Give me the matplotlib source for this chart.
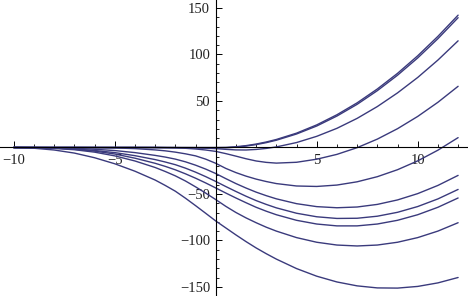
import matplotlib
matplotlib.use("Agg")
import matplotlib.pyplot as plt

# ---- data ----
x = [-10, -9, -8, -7, -6, -5, -4, -3, -2.5, -2, -1.5, -1, -0.5, 0,
     0.5, 1, 1.5, 2, 2.5, 3, 4, 5, 6, 7, 8, 9, 10, 11, 12]

c1 = [0, 0, 0, 0, 0, 0, 0, 0, 0, 0, 0, 0, 0, 0,
      0.15, 0.8, 2.0, 3.7, 5.9, 8.6, 15.4, 24.3, 35.2, 48.0, 62.9, 79.7, 98.6, 119.5, 142.3]
c2 = [0, 0, 0, 0, 0, 0, 0, 0, -0.05, -0.1, -0.15, -0.2, -0.35, -0.5,
      -0.3, 0.3, 1.5, 3.1, 5.2, 7.8, 14.5, 23.1, 33.8, 46.4, 61.1, 77.7, 96.3, 117.0, 139.6]
c3 = [0, 0, 0, 0, 0, 0, 0, 0, -0.1, -0.15, -0.3, -0.5, -0.8, -1.2,
      -2.0, -2.6, -2.7, -2.1, -1.0, 0.6, 5.3, 12.0, 20.6, 31.3, 44.0, 58.7, 75.3, 94.0, 114.7]
c4 = [0, 0, 0, 0, 0, 0, 0, -0.1, -0.2, -0.4, -0.85, -1.6, -2.7, -4.2,
      -6.6, -9.3, -12.1, -14.5, -16.0, -16.8, -15.9, -12.6, -7.4, -0.2, 9.0, 20.2, 33.4, 48.6, 65.8]
c5 = [0, 0, 0, 0, -0.15, -0.5, -1.2, -2.6, -3.6, -5.0, -6.8, -9.0, -12.5, -17.0,
      -22.5, -27.0, -30.8, -34.0, -36.6, -38.8, -41.4, -41.9, -40.4, -36.9, -31.4, -23.9, -14.4, -2.9, 10.6]
c6 = [0, 0, -0.3, -0.9, -1.9, -3.3, -5.5, -8.5, -10.3, -12.5, -15.4, -19.0, -23.2, -28.0,
      -33.5, -38.8, -43.6, -48.0, -51.8, -55.2, -60.4, -63.6, -64.8, -64.0, -61.2, -56.4, -49.6, -40.8, -30.0]
c7 = [0, -0.1, -0.5, -1.6, -3.2, -5.5, -8.8, -13.0, -15.6, -18.5, -22.2, -26.5, -31.3, -36.5,
      -42.0, -47.3, -52.4, -57.1, -61.2, -64.9, -70.7, -74.5, -76.3, -76.1, -73.9, -69.7, -63.5, -55.3, -45.1]
c8 = [0, -0.2, -0.7, -1.9, -3.9, -7.0, -11.5, -17.0, -20.3, -24.0, -28.3, -33.0, -38.1, -43.5,
      -49.0, -54.3, -59.4, -64.3, -68.5, -72.3, -78.3, -82.3, -84.3, -84.3, -82.3, -78.3, -72.3, -64.3, -54.3]
c9 = [0, -0.3, -1.0, -2.4, -5.0, -9.0, -14.5, -21.5, -25.8, -30.5, -36.0, -42.3, -49.0, -56.0,
      -63.3, -69.9, -75.7, -80.9, -85.7, -89.9, -96.9, -101.9, -104.9, -105.9, -104.9, -101.9, -96.9, -89.9, -80.9]
c10 = [-0.1, -0.8, -2.7, -6.0, -11.0, -17.5, -25.5, -35.0, -40.8, -47.0, -54.5, -62.5, -70.7, -79.0,
       -86.5, -94.0, -101.2, -108.0, -114.2, -120.0, -130.2, -138.4, -144.6, -148.8, -151.0, -151.2, -149.4, -145.6, -139.8]

curves = [c1, c2, c3, c4, c5, c6, c7, c8, c9, c10]

x_major = [-10, -5, 5, 10]
x_major_labels = ["\u221210", "\u22125", "5", "10"]
y_major = [-150, -100, -50, 50, 100, 150]
y_major_labels = ["\u2212150", "\u2212100", "\u221250", "50", "100", "150"]
x_minor = [v for v in range(-10, 13) if v % 5 != 0]
y_minor = [v for v in range(-150, 151, 10) if v % 50 != 0]

# ---- figure ----
fig = plt.figure(figsize=(4.68, 2.96), dpi=100)
ax = fig.add_axes([0, 0, 1, 1])
ax.set_facecolor("white")

line_color = "#3a3a7c"
for c in curves:
    ax.plot(x, c, color=line_color, lw=1.0, solid_joinstyle="round",
            solid_capstyle="round", zorder=2)

ax.set_xlim(-10.68, 12.49)
ax.set_ylim(-159.7, 158.6)

for s in ("top", "right"):
    ax.spines[s].set_visible(False)
ax.spines["left"].set_position(("data", 0))
ax.spines["bottom"].set_position(("data", 0))
for s in ("left", "bottom"):
    ax.spines[s].set_linewidth(0.8)
    ax.spines[s].set_color("black")
    ax.spines[s].set_zorder(3)

ax.set_xticks(x_major)
ax.set_xticklabels(x_major_labels)
ax.set_xticks(x_minor, minor=True)
ax.set_yticks(y_major)
ax.set_yticklabels(y_major_labels)
ax.set_yticks(y_minor, minor=True)

ax.tick_params(which="major", direction="in", length=4, width=0.7, color="black")
ax.tick_params(which="minor", direction="in", length=2.3, width=0.6, color="black")
ax.tick_params(axis="x", which="major", pad=5)
ax.tick_params(axis="y", which="major", pad=4)

for lab in ax.get_xticklabels() + ax.get_yticklabels():
    lab.set_fontfamily("Liberation Serif")
    lab.set_fontsize(10.5)
    lab.set_color("#222222")

fig.savefig("out.png", dpi=100)
